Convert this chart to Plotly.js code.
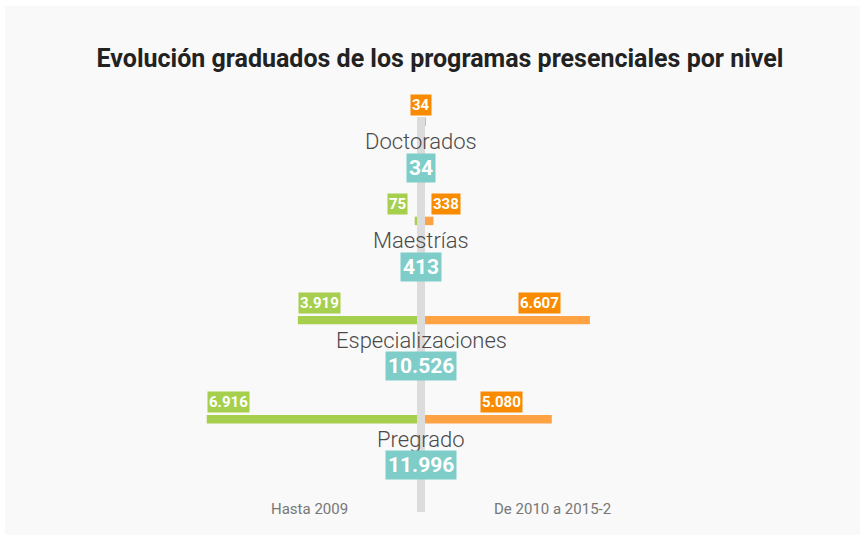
<!DOCTYPE html>
<html><head><meta charset="utf-8">
<script src="https://cdn.plot.ly/plotly-3.0.1.min.js"></script>
<style>html,body{margin:0;padding:0;background:#fff}</style>
</head><body><div id="chart" style="width:866px;height:539px"></div>
<script>
// ---- data ----
const levels = ['Pregrado', 'Especializaciones', 'Maestrías', 'Doctorados'];
const hasta2009 = [6916, 3919, 75, 0];
const desde2010 = [5080, 6607, 338, 34];
const totals = [11996, 10526, 413, 34];
const periodLabels = ['Hasta 2009', 'De 2010 a 2015-2'];
const titleText = 'Evolución graduados de los programas presenciales por nivel';

// ---- style / layout ----
const W = 866, H = 539;
const px = x => x / W, py = y => 1 - y / H;
const GREEN = '#a6cf4d', ORANGE_BAR = '#ffa244', ORANGE_LBL = '#f98b00', TEAL = '#7ecdc9';
const CENTER_L = 417, CENTER_R = 425, CENTER = 421;
const kL = 0.0304, kR = 0.02496;
const FONT = 'Roboto, "Open Sans", sans-serif';
const fmt = v => v.toString().replace(/\B(?=(\d{3})+(?!\d))/g, '.');

const traces = [
  {type: 'bar', orientation: 'h', y: levels, x: hasta2009, xaxis: 'x', yaxis: 'y',
   width: 0.085, marker: {color: GREEN}, hoverinfo: 'skip', name: periodLabels[0]},
  {type: 'bar', orientation: 'h', y: levels, x: desde2010, xaxis: 'x2', yaxis: 'y',
   width: 0.085, marker: {color: ORANGE_BAR}, hoverinfo: 'skip', name: periodLabels[1]}
];

const ann = [];
levels.forEach((lv, i) => {
  ann.push({xref: 'paper', x: px(CENTER), xanchor: 'center', yref: 'y', y: i, yshift: -20,
    yanchor: 'middle', showarrow: false,
    text: lv, font: {family: FONT, size: 22, color: '#4a4a4a', weight: 300}});
  ann.push({xref: 'paper', x: px(CENTER), xanchor: 'center', yref: 'y', y: i, yshift: -46,
    yanchor: 'middle', showarrow: false,
    text: '<b>' + fmt(totals[i]) + '</b>', bgcolor: TEAL, borderpad: 2,
    font: {family: FONT, size: 21, color: '#fff'}});
  const g = hasta2009[i];
  if (g > 0) {
    const big = g * kL > 50;
    ann.push({xref: 'x', x: big ? g : 0, xanchor: big ? 'left' : 'right', xshift: big ? 0 : -9,
      yref: 'y', y: i, yshift: 17, yanchor: 'middle', showarrow: false, text: '<b>' + fmt(g) + '</b>',
      bgcolor: GREEN, borderpad: 1, font: {family: FONT, size: 15, color: '#fff'}});
  }
  const o = desde2010[i];
  if (o > 0) {
    let a;
    if (o * kR > 60) a = {xref: 'x2', x: o, xanchor: 'right', xshift: -29};
    else if (g > 0) a = {xref: 'x2', x: 0, xanchor: 'left', xshift: 6};
    else a = {xref: 'paper', x: px(CENTER), xanchor: 'center'};
    Object.assign(a, {yref: 'y', y: i, yshift: 17, yanchor: 'middle', showarrow: false,
      text: '<b>' + fmt(o) + '</b>',
      bgcolor: ORANGE_LBL, borderpad: 1, font: {family: FONT, size: 15, color: '#fff'}});
    ann.push(a);
  }
});
ann.push({xref: 'paper', yref: 'paper', x: px(309), y: py(509), xanchor: 'center', yanchor: 'middle',
  showarrow: false, text: periodLabels[0], font: {family: FONT, size: 15, color: '#777'}});
ann.push({xref: 'paper', yref: 'paper', x: px(552), y: py(509), xanchor: 'center', yanchor: 'middle',
  showarrow: false, text: periodLabels[1], font: {family: FONT, size: 15, color: '#777'}});

const layout = {
  width: W, height: H,
  margin: {l: 0, r: 0, t: 0, b: 0},
  paper_bgcolor: '#ffffff', plot_bgcolor: 'rgba(0,0,0,0)',
  showlegend: false, barmode: 'overlay',
  title: {text: titleText, x: px(440), xanchor: 'center', y: py(58), yanchor: 'middle',
    font: {family: FONT, size: 25, color: '#222', weight: 'bold'}},
  xaxis: {domain: [0, px(CENTER_L)], range: [CENTER_L / kL, 0], visible: false, fixedrange: true},
  xaxis2: {domain: [px(CENTER_R), 1], range: [0, (W - CENTER_R) / kR], visible: false, fixedrange: true},
  yaxis: {type: 'category', categoryorder: 'array', categoryarray: levels,
    range: [-1.2067, 4.2267], visible: false, fixedrange: true},
  shapes: [
    {type: 'rect', xref: 'paper', yref: 'paper', x0: px(5), x1: px(860), y0: py(535), y1: py(6),
      fillcolor: '#f9f9f9', line: {width: 0}, layer: 'below'},
    {type: 'rect', xref: 'paper', yref: 'paper', x0: px(CENTER_L), x1: px(CENTER_R), y0: py(512), y1: py(117),
      fillcolor: '#dcdcdc', line: {width: 0}, layer: 'below'}
  ],
  annotations: ann
};

Plotly.newPlot('chart', traces, layout, {displayModeBar: false, staticPlot: true});
</script></body></html>
